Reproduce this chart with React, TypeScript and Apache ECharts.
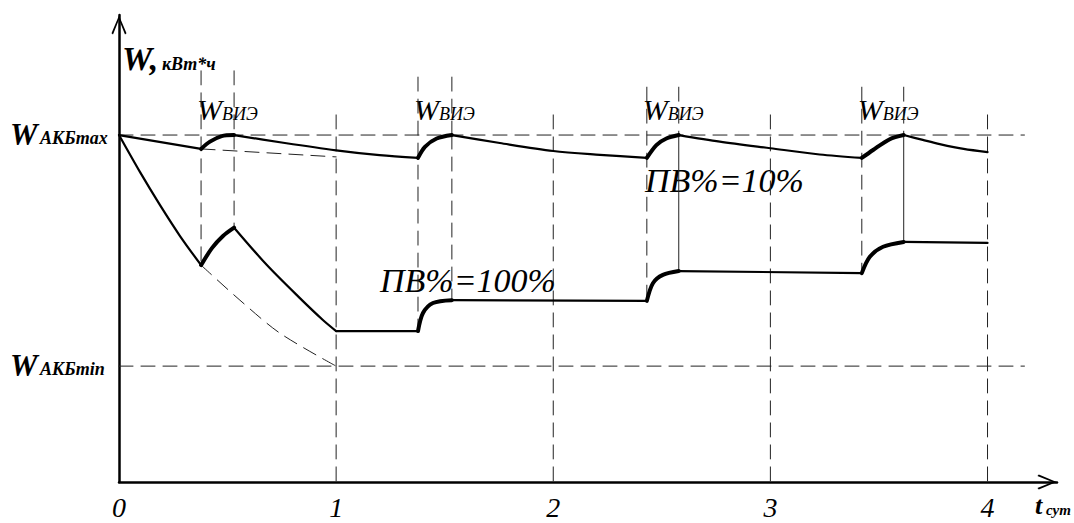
import React, { useEffect, useRef } from 'react';
import * as echarts from 'echarts';

// ---- data (t in days, W in relative units: W_AKBmax = 100) ----
const tickLabels = ['0', '1', '2', '3', '4'];
const W_MAX = 100;
const W_MIN = 33.4;
const LEVEL_END = 4.17;

// ПВ% = 10 %
const upperDecay: number[][][] = [
  [[0, 100], [0.378, 96.0]],
  [[0.53, 100], [0.764, 97.7], [1.0, 95.6], [1.2, 94.2], [1.377, 93.4]],
  [[1.533, 100], [1.754, 97.7], [2.0, 95.4], [2.215, 94.3], [2.431, 93.4]],
  [[2.578, 100], [2.767, 98.1], [3.0, 96.2], [3.227, 94.4], [3.421, 93.4]],
  [[3.614, 100], [3.702, 98.6], [3.78, 97.4], [3.89, 96.0], [4.0, 95.1]],
];
const upperCharge: number[][][] = [
  [[0.378, 96.0], [0.419, 98.1], [0.473, 99.7], [0.53, 100]],
  [[1.377, 93.4], [1.409, 96.6], [1.463, 99.0], [1.533, 100]],
  [[2.431, 93.4], [2.475, 97.1], [2.521, 99.0], [2.578, 100]],
  [[3.421, 93.4], [3.473, 95.7], [3.55, 98.8], [3.614, 100]],
];
const upperNoCharge: number[][] = [[0.378, 96.0], [1.0, 93.7]];

// ПВ% = 100 %
const lowerDecay: number[][][] = [
  [[0, 100], [0.097, 89.3], [0.189, 79.8], [0.281, 70.9], [0.378, 62.5]],
  [[0.53, 73.3], [0.68, 62.6], [0.833, 53.0], [0.939, 46.7], [1.0, 43.5]],
  [[1.0, 43.5], [1.377, 43.5]],
  [[1.533, 52.4], [2.431, 52.2]],
  [[2.578, 60.8], [3.421, 60.2]],
  [[3.614, 69.2], [4.0, 68.9]],
];
const lowerCharge: number[][][] = [
  [[0.378, 62.5], [0.428, 67.4], [0.479, 70.9], [0.53, 73.3]],
  [[1.377, 43.5], [1.4, 48.7], [1.446, 51.6], [1.533, 52.4]],
  [[2.431, 52.2], [2.459, 57.3], [2.505, 59.7], [2.578, 60.8]],
  [[3.421, 60.2], [3.458, 64.9], [3.519, 67.8], [3.614, 69.2]],
];
const lowerNoCharge: number[][] = [[0.378, 62.5], [0.557, 52.4], [0.741, 42.9], [1.0, 33.4]];

// charge windows (W_ВИЭ)
const windowStart = [0.378, 1.377, 2.431, 3.421];
const windowEnd = [0.53, 1.533, 2.578, 3.614];
const windowTop = [118.5, 116.7, 113.8, 113.8];
const startBottom = [62.5, 43.5, 52.2, 60.2];
const endUpper = [100, 100, 100, 100];
const endBottom = [73.3, 52.4, 60.8, 69.2];
const endSolid = [false, false, true, true];

// day lines
const dayLines = [1, 2, 3, 4];
const dayTop = 105.8;

const SERIF = '"Liberation Serif", "DejaVu Serif", serif';

export default function App() {
  const ref = useRef<HTMLDivElement>(null);
  useEffect(() => {
    const chart = echarts.init(ref.current!, null, { renderer: 'svg' });
    const series: any[] = [];
    const add = (data: number[][], width: number, dashed: boolean, smooth: number, color = '#000', z = 3) => {
      series.push({
        type: 'line',
        data,
        symbol: 'none',
        silent: true,
        smooth: smooth > 0 ? smooth : false,
        z,
        lineStyle: { color, width, type: dashed ? [14, 8] : 'solid', cap: 'round', join: 'round' },
      });
    };
    const DASH = '#222';
    // level lines
    add([[0, W_MAX], [LEVEL_END, W_MAX]], 1, true, 0, DASH, 1);
    add([[0, W_MIN], [LEVEL_END, W_MIN]], 1, true, 0, DASH, 1);
    // day lines
    dayLines.forEach((d) => add([[d, dayTop], [d, 0]], 1, true, 0, DASH, 1));
    // window lines
    windowStart.forEach((t, i) => add([[t, windowTop[i]], [t, startBottom[i]]], 1, true, 0, DASH, 1));
    windowEnd.forEach((t, i) => {
      add([[t, windowTop[i]], [t, endUpper[i]]], 1, true, 0, DASH, 1);
      add([[t, endUpper[i]], [t, endBottom[i]]], 1, !endSolid[i], 0, DASH, 1);
    });
    // no-charge dashed continuations
    add(upperNoCharge, 1, true, 0, DASH, 1);
    add(lowerNoCharge, 1, true, 0.3, DASH, 1);
    // curves
    upperDecay.forEach((s) => add(s, 2.2, false, 0.3));
    lowerDecay.forEach((s) => add(s, 2.2, false, 0.3));
    upperCharge.forEach((s) => add(s, 4, false, 0.3));
    lowerCharge.forEach((s) => add(s, 4, false, 0.3));

    const arrow = 'path://M8,0 L16,19 L14.4,20.5 L8,4.5 L1.6,20.5 L0,19 Z';

    chart.setOption({
      animation: false,
      grid: { left: 119, right: 17, top: 15, bottom: 41 },
      xAxis: {
        type: 'value',
        min: 0,
        max: 4.32,
        interval: 1,
        splitLine: { show: false },
        axisTick: { show: false },
        axisLine: {
          lineStyle: { color: '#000', width: 2.5 },
          symbol: ['none', arrow],
          symbolSize: [15, 21],
          symbolOffset: [0, -10],
        },
        axisLabel: {
          showMaxLabel: false,
          margin: 11,
          color: '#000',
          fontFamily: SERIF,
          fontStyle: 'italic',
          fontSize: 28,
          formatter: (v: number) => (Number.isInteger(v) && v >= 0 && v < tickLabels.length ? tickLabels[v] : ''),
        },
      },
      yAxis: {
        type: 'value',
        min: 0,
        max: 134.6,
        splitLine: { show: false },
        axisTick: { show: false },
        axisLabel: { show: false },
        axisLine: {
          lineStyle: { color: '#000', width: 2.5 },
          symbol: ['none', arrow],
          symbolSize: [15, 21],
          symbolOffset: [0, -10],
        },
      },
      series,
    });

    const px = (t: number, w: number) => chart.convertToPixel({ gridIndex: 0 }, [t, w]) as number[];
    const txt = (x: number, y: number, text: string, size: number, bold: boolean, italic = true) => ({
      type: 'text',
      x,
      y,
      silent: true,
      style: {
        text,
        fill: '#000',
        fontFamily: SERIF,
        fontSize: size,
        fontWeight: bold ? 'bold' : 'normal',
        fontStyle: italic ? 'italic' : 'normal',
        align: 'left',
        verticalAlign: 'middle',
        textAlign: 'left',
        textVerticalAlign: 'middle',
      },
    });
    const g: any[] = [];
    // Y axis title
    g.push(txt(122, 58, 'W,', 34, true));
    g.push(txt(162, 64, 'кВт*ч', 18, true));
    // level labels
    const pMax = px(0, W_MAX);
    const pMin = px(0, W_MIN);
    g.push(txt(10, pMax[1] - 1, 'W', 31, true));
    g.push(txt(40, pMax[1] + 3, 'АКБmax', 18, true));
    g.push(txt(10, pMin[1] - 1, 'W', 31, true));
    g.push(txt(40, pMin[1] + 3, 'АКБmin', 18, true));
    // W_ВИЭ labels
    windowStart.forEach((t) => {
      const p = px(t, 0);
      g.push(txt(p[0] - 4, 109, 'W', 30, false));
      g.push(txt(p[0] + 21, 114, 'ВИЭ', 18, false));
    });
    // ПВ labels
    g.push(txt(645, 180, 'ПВ%=10%', 34, false));
    g.push(txt(380, 280, 'ПВ%=100%', 34, false));
    // time axis label
    g.push(txt(1035, 505, 't', 26, true));
    g.push(txt(1046, 510, 'сут', 15, true));

    chart.setOption({ graphic: g });
    return () => chart.dispose();
  }, []);
  return <div ref={ref} style={{ position: 'absolute', left: 0, top: 0, width: 1074, height: 523 }} />;
}
